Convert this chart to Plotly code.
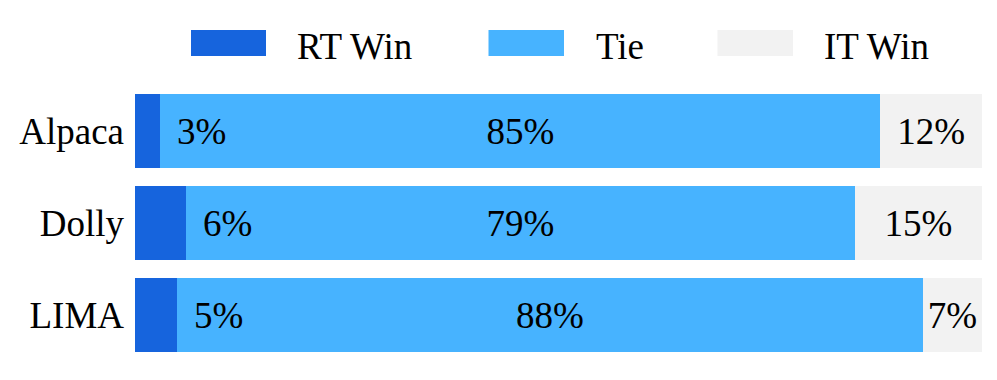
import plotly.graph_objects as go

categories = ["Alpaca", "Dolly", "LIMA"]
series_names = ["RT Win", "Tie", "IT Win"]
rt_win = [3, 6, 5]
tie = [85, 79, 88]
it_win = [12, 15, 7]
colors = ["#1664DD", "#47B3FF", "#F2F2F2"]

FONT = "Liberation Serif"
FS = 37
OFF = 8  # page body margin
# desired page-pixel plot area
PL, PR, PT, PB = 135, 982, 85, 361
W, H = 981, 364
ML, MT = PL - OFF, PT - OFF
MR = W - (PR - OFF)
MB = H - (PB - OFF)
PW, PH = PR - PL, PB - PT


def px_x(x):
    return (x - PL) / PW


def px_y(y):
    return (PB - y) / PH


fig = go.Figure()
values = [rt_win, tie, it_win]
for name, vals, col in zip(series_names, values, colors):
    show_text = name != "RT Win"
    fig.add_trace(go.Bar(
        y=categories, x=vals, name=name, orientation="h",
        marker=dict(color=col, line=dict(width=0)),
        text=[f"{v}%" for v in vals] if show_text else None,
        textposition="inside" if show_text else "none",
        insidetextanchor="middle",
        textfont=dict(family=FONT, size=FS, color="black"),
        hoverinfo="skip", showlegend=False,
    ))

# RT Win labels: just to the right of the RT segment
for cat, v in zip(categories, rt_win):
    fig.add_annotation(x=v, y=cat, xref="x", yref="y", text=f"{v}%",
                       showarrow=False, xanchor="left", xshift=15,
                       font=dict(family=FONT, size=FS, color="black"))

# Manual legend
sw_x = [(191, 266), (488.5, 564), (717.5, 793)]
tx_x = [295, 594, 822]
for (x0, x1), tx, name, col in zip(sw_x, tx_x, series_names, colors):
    fig.add_shape(type="rect", xref="paper", yref="paper",
                  x0=px_x(x0), x1=px_x(x1), y0=px_y(56), y1=px_y(30),
                  fillcolor=col, line=dict(width=0))
    fig.add_annotation(xref="paper", yref="paper", x=px_x(tx), y=px_y(46),
                       text=name, showarrow=False, xanchor="left", yanchor="middle",
                       font=dict(family=FONT, size=FS, color="black"))

fig.update_layout(
    width=W, height=H, barmode="stack", bargap=0.196,
    margin=dict(l=ML, r=MR, t=MT, b=MB, pad=0),
    plot_bgcolor="white", paper_bgcolor="white",
    font=dict(family=FONT, size=FS, color="black"),
    xaxis=dict(range=[0, 100], visible=False, showgrid=False, zeroline=False),
    yaxis=dict(categoryorder="array", categoryarray=categories[::-1],
               showgrid=False, zeroline=False, showline=False, ticks="",
               ticklabelstandoff=10,
               tickfont=dict(family=FONT, size=FS, color="black")),
    uniformtext=dict(minsize=FS, mode="show"),
)

fig.write_html("out.html")
